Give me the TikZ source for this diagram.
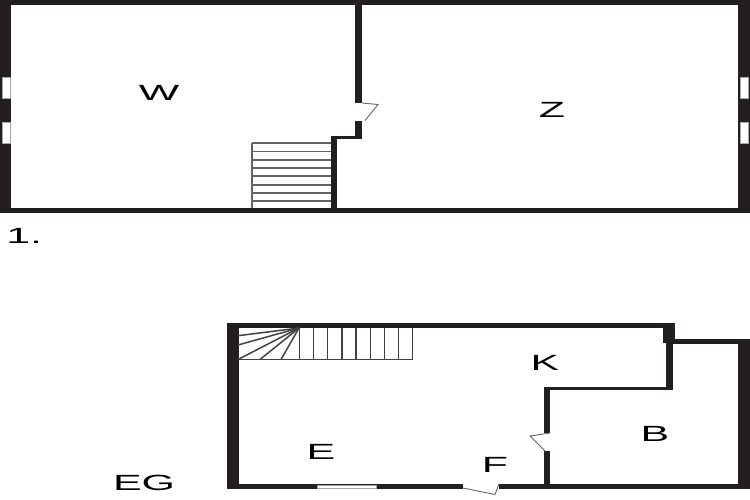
\documentclass[tikz,border=0pt]{standalone}
\usepackage{fontspec}
\setmainfont{Liberation Sans}
\definecolor{wallc}{HTML}{231F20}
\tikzset{
  wall/.style={fill=wallc,draw=none},
  opening/.style={fill=white,draw=gray!70,line width=0.9pt},
  doorleaf/.style={draw=gray!80!black,line width=0.9pt,line join=miter},
  tread/.style={draw=wallc!70,line width=1.3pt},
  tread2/.style={draw=wallc!85,line width=1.5pt},
  room/.style={font=\fontsize{22}{22}\selectfont,text=black,xscale=1.95,inner sep=0pt}
}
\begin{document}
\begin{tikzpicture}[x=1pt,y=-1pt]
\useasboundingbox (0,0) rectangle (750,500);
\fill[white] (0,0) rectangle (750,500);
% upper floor
\fill[wall] (0,0) rectangle (750,5.5);
\fill[wall] (0,0) rectangle (11,213);
\fill[wall] (738,0) rectangle (750,213);
\fill[wall] (0,207.5) rectangle (750,213);
\fill[wall] (355,0) rectangle (362,103);
\fill[wall] (355,121) rectangle (362,139);
\fill[wall] (331,136) rectangle (362,139.5);
\fill[wall] (331,136) rectangle (337,213);
\foreach \wy in {77,122}{
  \filldraw[opening] (2,\wy) rectangle (10,\wy+21);
  \filldraw[opening] (740,\wy) rectangle (748,\wy+21);
}
\draw[doorleaf] (362,103) -- (378,104.5) -- (365,120.5);
\draw[tread] (252,143) -- (331,143);
\draw[tread] (252,143) -- (252,208);
\foreach \ty in {151.7,160,168,176,185,193,201}{
  \draw[tread] (252,\ty) -- (331,\ty);
}
% lower floor
\fill[wall] (227,323) rectangle (675,328);
\fill[wall] (227,323) rectangle (238.5,489);
\fill[wall] (227,484) rectangle (463,489);
\fill[wall] (499,484) rectangle (750,489);
\fill[wall] (663,323) rectangle (675,343);
\fill[wall] (666,323) rectangle (673,390);
\fill[wall] (666,339) rectangle (750,344);
\fill[wall] (738,339) rectangle (750,489);
\fill[wall] (544,387) rectangle (673,390);
\fill[wall] (544,387) rectangle (550,433);
\fill[wall] (544,451) rectangle (550,489);
\filldraw[opening] (317,485) rectangle (376,488);
\draw[doorleaf] (550,433) -- (530,436) -- (545,451);
\draw[doorleaf] (463,488) -- (495,494.5) -- (499,484);
% lower stairs
\draw[tread2] (238,359.5) -- (413,359.5);
\foreach \sx in {299.3,313.7,327.7,342,356,370.3,384.3,398.3,412.7}{
  \draw[tread2] (\sx,328) -- (\sx,359.5);
}
\coordinate (apex) at (299,328);
\draw[tread2] (apex) -- (238,335.7);
\draw[tread2] (apex) -- (238,345);
\draw[tread2] (apex) -- (238,359.5);
\draw[tread2] (apex) -- (260,359.5);
\draw[tread2] (apex) -- (281,359.5);
% labels
\node[room] (w) at (159,93) {W};
\node[room] (z) at (552,110) {Z};
\node[room] (k) at (545,363) {K};
\node[room] (b) at (655,434) {B};
\node[room] (e) at (321,452) {E};
\node[room] (f) at (495,465) {F};
\node[room] (eg) at (144,483) {EG};
\node[room,anchor=base west] (one) at (6,243) {1.};
\end{tikzpicture}
\end{document}
